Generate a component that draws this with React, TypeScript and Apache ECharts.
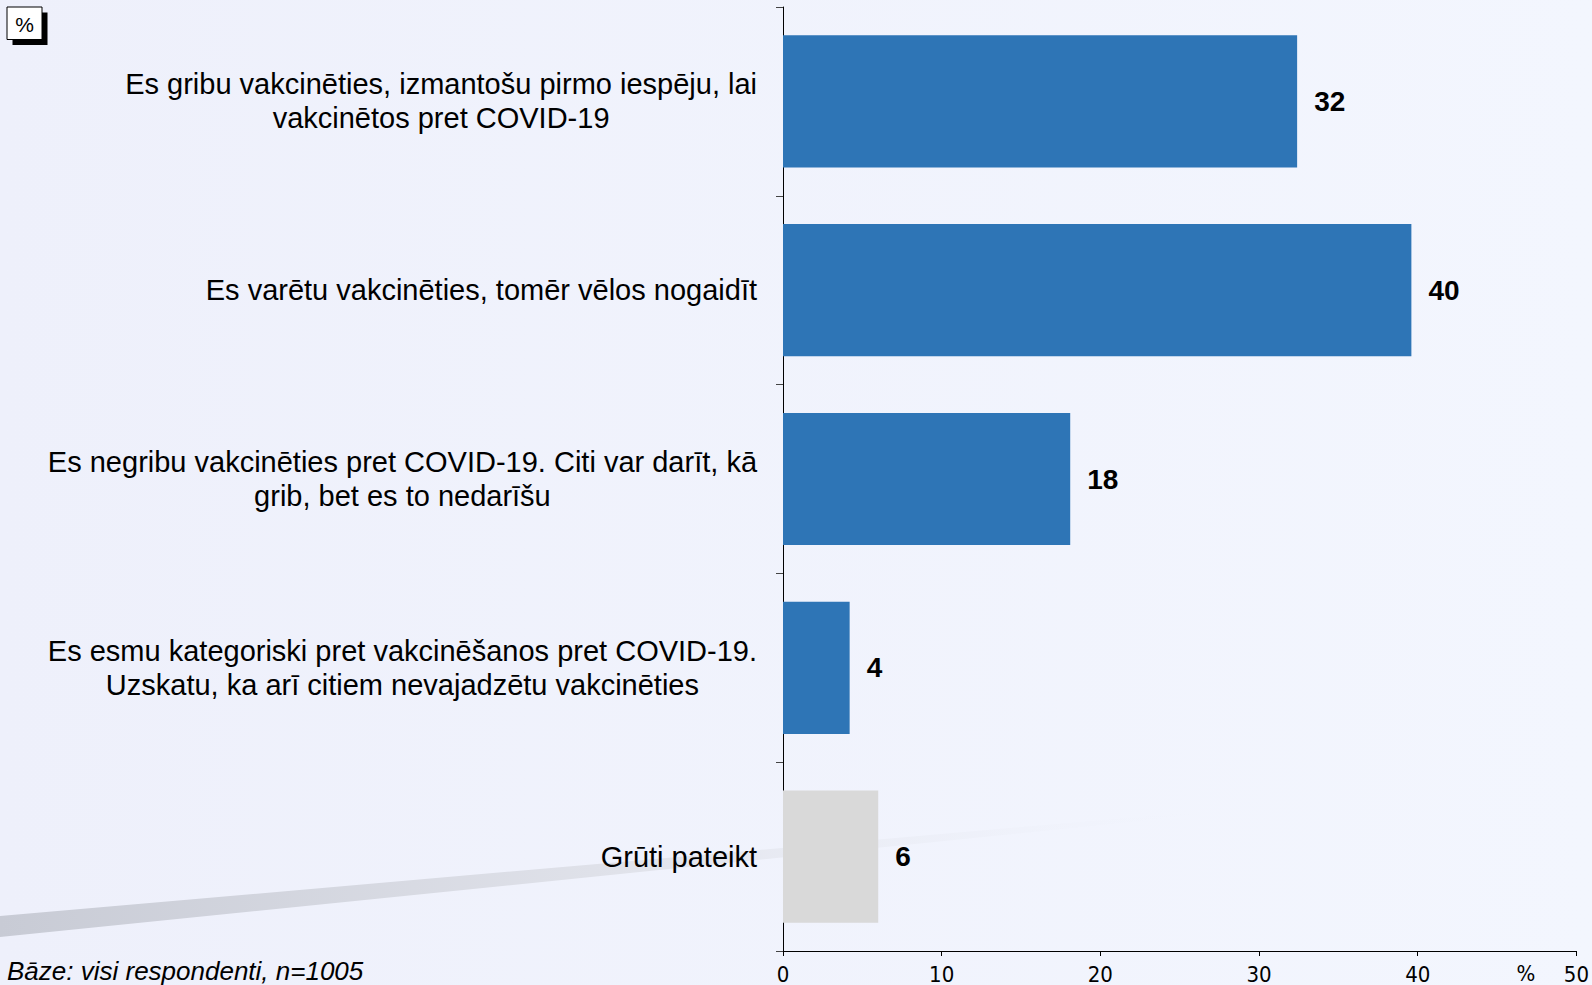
import React, { useEffect, useRef } from "react";
import * as echarts from "echarts";

const categories = [
  "Es gribu vakcinēties, izmantošu pirmo iespēju, lai\nvakcinētos pret COVID-19",
  "Es varētu vakcinēties, tomēr vēlos nogaidīt",
  "Es negribu vakcinēties pret COVID-19. Citi var darīt, kā\ngrib, bet es to nedarīšu",
  "Es esmu kategoriski pret vakcinēšanos pret COVID-19.\nUzskatu, ka arī citiem nevajadzētu vakcinēties",
  "Grūti pateikt",
];
const values = [32.4, 39.6, 18.1, 4.2, 6.0];
const neutralCategory = "Grūti pateikt";
const xTicks = [0, 10, 20, 30, 40, 50];
const baseNote = "Bāze: visi respondenti, n=1005";
const unitLabel = "%";

const BLUE = "#2E75B6";
const GREY = "#D9D9D9";
const NARROW = "'Liberation Sans Narrow', 'DejaVu Sans Condensed', Arial, sans-serif";

export default function App() {
  const ref = useRef<HTMLDivElement>(null);

  useEffect(() => {
    if (!ref.current) return;
    const chart = echarts.init(ref.current, null, { renderer: "svg" });
    const option: any = {
      animation: false,
      backgroundColor: {
        type: "linear",
        x: 0,
        y: 0,
        x2: 1,
        y2: 0,
        colorStops: [
          { offset: 0, color: "#EEF0FB" },
          { offset: 1, color: "#F3F6FE" },
        ],
      },
      grid: { left: 783, right: 15, top: 7, bottom: 34, containLabel: false },
      xAxis: {
        type: "value",
        min: xTicks[0],
        max: xTicks[xTicks.length - 1],
        interval: xTicks[1] - xTicks[0],
        axisLine: { show: true, lineStyle: { color: "#000", width: 1 } },
        axisTick: { show: true, length: 5, lineStyle: { color: "#000" } },
        splitLine: { show: false },
        axisLabel: {
          color: "#000",
          fontFamily: NARROW,
          fontSize: 22,
          margin: 12,
        },
      },
      yAxis: {
        type: "category",
        inverse: true,
        data: categories,
        axisLine: { show: true, lineStyle: { color: "#000", width: 1 } },
        axisTick: { show: true, length: 7, lineStyle: { color: "#444" } },
        splitLine: { show: false },
        axisLabel: {
          margin: 26,
          color: "#000",
          fontFamily: "'Liberation Sans', Arial, sans-serif",
          fontSize: 29,
          lineHeight: 34,
          formatter: (v: string) =>
            v
              .split("\n")
              .map((l) => `{c|${l}}`)
              .join("\n"),
          rich: {
            c: {
              align: "center",
              color: "#000",
              fontFamily: "'Liberation Sans', Arial, sans-serif",
              fontSize: 29,
              lineHeight: 34,
            },
          },
        },
      },
      series: [
        {
          type: "bar",
          data: values.map((v, i) => ({
            value: v,
            itemStyle: { color: categories[i] === neutralCategory ? GREY : BLUE },
          })),
          barCategoryGap: "30%",
          z: 5,
          label: {
            show: true,
            position: "right",
            distance: 17,
            color: "#000",
            fontWeight: "bold",
            fontFamily: "'Liberation Sans', Arial, sans-serif",
            fontSize: 28,
            formatter: (p: any) => String(Math.round(p.value)),
          },
        },
      ],
      graphic: [
        {
          type: "polygon",
          z: 0,
          silent: true,
          shape: {
            points: [
              [0, 916],
              [1240, 808],
              [1240, 811],
              [0, 937],
            ],
          },
          style: {
            fill: {
              type: "linear",
              x: 0,
              y: 0,
              x2: 1,
              y2: 0,
              colorStops: [
                { offset: 0, color: "#C8CBD5" },
                { offset: 0.5, color: "#E0E2EA" },
                { offset: 1, color: "rgba(242,245,254,0)" },
              ],
            },
          },
        },
        {
          type: "rect",
          z: 10,
          shape: { x: 12.5, y: 12.5, width: 35, height: 32.5 },
          style: { fill: "#000" },
        },
        {
          type: "rect",
          z: 11,
          shape: { x: 7, y: 7, width: 35, height: 32.5 },
          style: { fill: "#fff", stroke: "#000", lineWidth: 1 },
        },
        {
          type: "text",
          z: 12,
          x: 24.5,
          y: 24,
          style: {
            text: unitLabel,
            fill: "#000",
            fontFamily: "'Liberation Sans', Arial, sans-serif",
            fontSize: 21,
            align: "center",
            verticalAlign: "middle",
          },
        },
        {
          type: "text",
          z: 12,
          x: 1526,
          y: 962,
          style: {
            text: unitLabel,
            fill: "#000",
            fontFamily: NARROW,
            fontSize: 22,
            align: "center",
            verticalAlign: "top",
          },
        },
        {
          type: "text",
          z: 12,
          x: 7,
          y: 984,
          style: {
            text: baseNote,
            fill: "#000",
            fontFamily: "'Liberation Sans', Arial, sans-serif",
            fontStyle: "italic",
            fontSize: 26,
            align: "left",
            verticalAlign: "bottom",
          },
        },
      ],
    };
    chart.setOption(option);
    return () => chart.dispose();
  }, []);

  return (
    <div
      ref={ref}
      style={{ position: "fixed", left: 0, top: 0, width: 1592, height: 985 }}
    />
  );
}
